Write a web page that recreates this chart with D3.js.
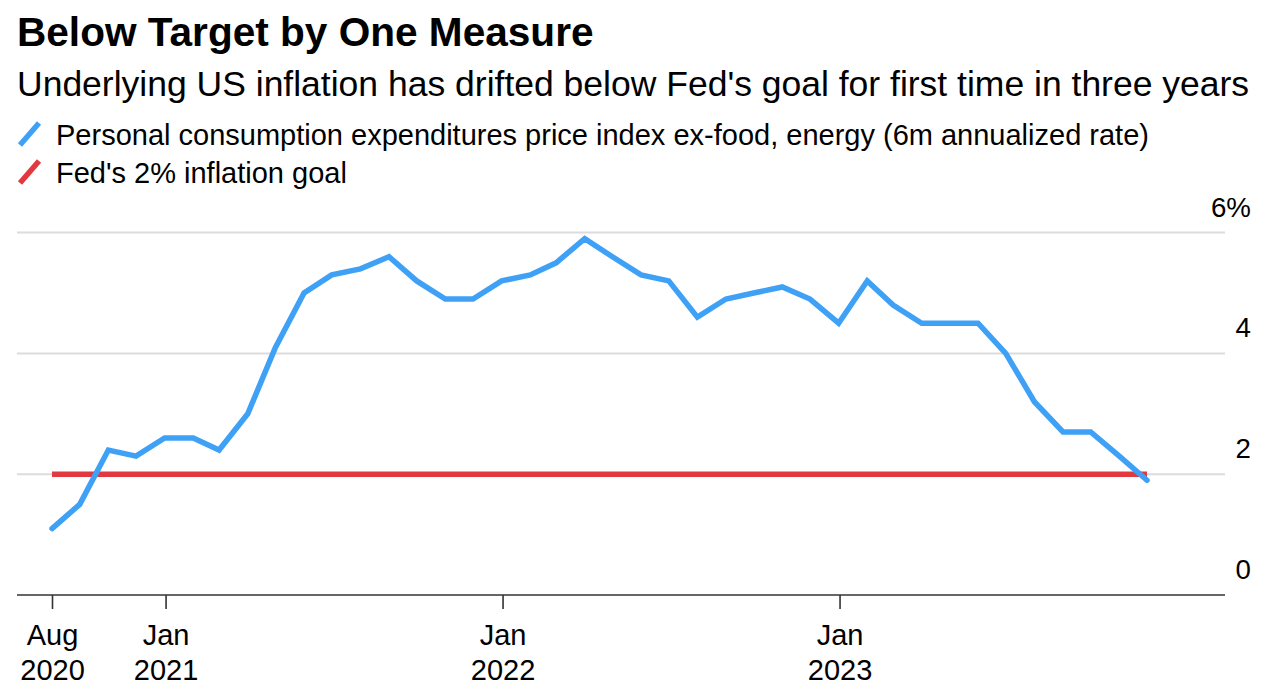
<!DOCTYPE html>
<html>
<head>
<meta charset="utf-8">
<script src="https://cdn.jsdelivr.net/npm/d3@7"></script>
<style>
  html, body { margin: 0; padding: 0; background: #fff; }
  svg { display: block; font-family: "Liberation Sans", Arial, Helvetica, sans-serif; }
</style>
</head>
<body>
<svg id="chart" width="1272" height="696"></svg>
<script>
// ---- Data ----
const months = [
  "2020-08","2020-09","2020-10","2020-11","2020-12",
  "2021-01","2021-02","2021-03","2021-04","2021-05","2021-06","2021-07","2021-08","2021-09","2021-10","2021-11","2021-12",
  "2022-01","2022-02","2022-03","2022-04","2022-05","2022-06","2022-07","2022-08","2022-09","2022-10","2022-11","2022-12",
  "2023-01","2023-02","2023-03","2023-04","2023-05","2023-06","2023-07","2023-08","2023-09","2023-10","2023-11"
];
const pceCore = [
  1.1, 1.5, 2.4, 2.3, 2.6,
  2.6, 2.4, 3.0, 4.1, 5.0, 5.3, 5.4, 5.6, 5.2, 4.9, 4.9, 5.2,
  5.3, 5.5, 5.9, 5.6, 5.3, 5.2, 4.6, 4.9, 5.0, 5.1, 4.9, 4.5,
  5.2, 4.8, 4.5, 4.5, 4.5, 4.0, 3.2, 2.7, 2.7, 2.3, 1.9
];
const fedGoal = 2;
const yTicks = [0, 2, 4, 6];
const yTickLabels = ["0", "2", "4", "6%"];
const xTickDates = ["2020-08-31", "2021-01-01", "2022-01-01", "2023-01-01"];
const xTickLabels = [["Aug", "2020"], ["Jan", "2021"], ["Jan", "2022"], ["Jan", "2023"]];

const title = "Below Target by One Measure";
const subtitle = "Underlying US inflation has drifted below Fed's goal for first time in three years";
const legendLabels = ["Personal consumption expenditures price index ex-food, energy (6m annualized rate)", "Fed's 2% inflation goal"];
const colors = { pce: "#3ea1f6", goal: "#e2383f" };

// ---- Build ----
const monthEnd = m => { const [yy, mo] = m.split("-").map(Number); return new Date(yy, mo, 0); };
const parseDay = d => { const [a, b, c] = d.split("-").map(Number); return new Date(a, b - 1, c); };
const data = months.map((m, i) => ({ date: monthEnd(m), value: pceCore[i] }));

const svg = d3.select("#chart");
const plotLeft = 17, plotRight = 1225;

const x = d3.scaleTime()
  .domain([monthEnd(months[0]), monthEnd(months[months.length - 1])])
  .range([52, 1147]);
const y = d3.scaleLinear().domain([0, 6]).range([595, 232.6]);

// Title
svg.append("text").attr("x", 17).attr("y", 46)
  .attr("font-size", 40.6).attr("font-weight", "bold").attr("fill", "#000")
  .text(title);
svg.append("text").attr("x", 17).attr("y", 96)
  .attr("font-size", 35.5).attr("fill", "#000")
  .text(subtitle);

// Legend
const legendKeys = ["pce", "goal"];
legendLabels.forEach((lab, i) => {
  const base = 145 + i * 38;
  svg.append("line")
    .attr("x1", 20).attr("y1", base).attr("x2", 39).attr("y2", base - 22)
    .attr("stroke", colors[legendKeys[i]]).attr("stroke-width", 5.5).attr("stroke-linecap", "butt");
  svg.append("text").attr("x", 56).attr("y", base)
    .attr("font-size", 29).attr("fill", "#000").text(lab);
});

// Gridlines + y labels
yTicks.forEach((t, i) => {
  if (t !== 0) {
    svg.append("line")
      .attr("x1", plotLeft).attr("x2", plotRight)
      .attr("y1", y(t)).attr("y2", y(t))
      .attr("stroke", "#dcdcdc").attr("stroke-width", 2);
  }
  svg.append("text")
    .attr("x", 1251).attr("y", y(t) - 16)
    .attr("text-anchor", "end").attr("font-size", 27.7).attr("fill", "#000")
    .text(yTickLabels[i]);
});

// x axis line
svg.append("line")
  .attr("x1", plotLeft).attr("x2", plotRight)
  .attr("y1", y(0)).attr("y2", y(0))
  .attr("stroke", "#333").attr("stroke-width", 1.6);

// x ticks
const xAxis = d3.axisBottom(x)
  .tickValues(xTickDates.map(parseDay))
  .tickSize(14).tickFormat("");
const gx = svg.append("g").attr("transform", `translate(0,${y(0)})`).call(xAxis);
gx.select(".domain").remove();
gx.selectAll(".tick line").attr("stroke", "#333").attr("stroke-width", 1.6);
gx.selectAll(".tick").each(function(d, i) {
  const t = d3.select(this).append("text")
    .attr("fill", "#000").attr("font-size", 29).attr("text-anchor", "middle")
    .attr("font-family", "Liberation Sans, Arial, sans-serif");
  t.append("tspan").attr("x", 0).attr("y", 50).text(xTickLabels[i][0]);
  t.append("tspan").attr("x", 0).attr("y", 85).text(xTickLabels[i][1]);
});

// Fed goal line
svg.append("line")
  .attr("x1", x(data[0].date)).attr("x2", x(data[data.length - 1].date))
  .attr("y1", y(fedGoal)).attr("y2", y(fedGoal))
  .attr("stroke", colors.goal).attr("stroke-width", 5.5);

// PCE line
const line = d3.line().x(d => x(d.date)).y(d => y(d.value));
svg.append("path").datum(data)
  .attr("d", line).attr("fill", "none")
  .attr("stroke", colors.pce).attr("stroke-width", 5.5)
  .attr("stroke-linejoin", "miter").attr("stroke-linecap", "round");
</script>
</body>
</html>
